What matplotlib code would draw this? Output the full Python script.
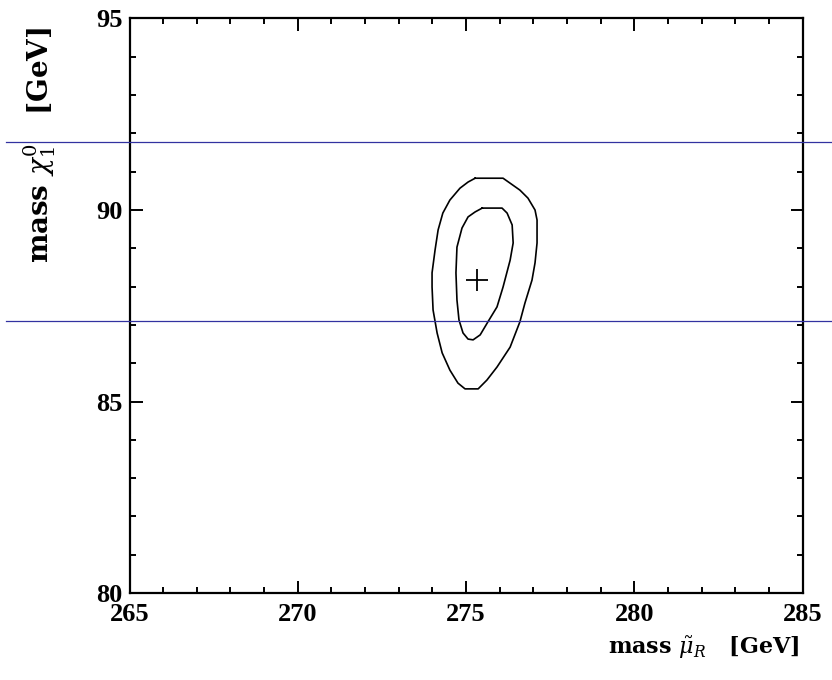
import matplotlib
matplotlib.use("Agg")
import matplotlib.pyplot as plt
import matplotlib.transforms as mtransforms
from matplotlib.lines import Line2D
from matplotlib.ticker import MultipleLocator

# Fit result: best-fit point and confidence contours in the
# (smuon mass, neutralino mass) plane
best_fit_mu = 275.33
best_fit_chi = 88.17

outer_mu = [275.27, 276.10, 276.31, 276.60, 276.84, 277.05, 277.11, 277.11,
            277.05, 276.96, 276.75, 276.60, 276.31, 275.92, 275.62, 275.36,
            274.97, 274.76, 274.52, 274.29, 274.14, 274.02, 273.99, 273.99,
            274.08, 274.17, 274.31, 274.52, 274.82, 275.06]
outer_chi = [90.83, 90.83, 90.70, 90.52, 90.31, 90.00, 89.74, 89.14,
             88.62, 88.17, 87.57, 87.08, 86.42, 85.90, 85.56, 85.33,
             85.33, 85.48, 85.82, 86.27, 86.79, 87.39, 87.99, 88.36,
             88.96, 89.48, 89.92, 90.26, 90.57, 90.73]

inner_mu = [275.48, 276.07, 276.22, 276.37, 276.40, 276.31, 276.10, 275.92,
            275.65, 275.42, 275.21, 275.06, 274.91, 274.79, 274.73, 274.70,
            274.73, 274.88, 275.06, 275.27]
inner_chi = [90.05, 90.05, 89.92, 89.61, 89.14, 88.69, 87.99, 87.47,
             87.08, 86.74, 86.61, 86.63, 86.79, 87.13, 87.65, 88.36,
             89.03, 89.53, 89.82, 89.95]

# Horizontal reference levels of the neutralino mass
chi_levels = [91.78, 87.09]

x_ticks = [265, 270, 275, 280, 285]
y_ticks = [80, 85, 90, 95]

plt.rcParams["mathtext.fontset"] = "dejavuserif"

fig = plt.figure(figsize=(8.32, 6.8), dpi=100)
ax = fig.add_axes([0.1557, 0.1279, 0.8089, 0.8449])

ax.plot(outer_mu + outer_mu[:1], outer_chi + outer_chi[:1], color="black", lw=1.2)
ax.plot(inner_mu + inner_mu[:1], inner_chi + inner_chi[:1], color="black", lw=1.2)
ax.plot([best_fit_mu], [best_fit_chi], marker="+", color="black",
        markersize=16, markeredgewidth=1.3, linestyle="none")

ax.set_xlim(265, 285)
ax.set_ylim(80, 95)
ax.set_xticks(x_ticks)
ax.set_yticks(y_ticks)
ax.xaxis.set_minor_locator(MultipleLocator(1))
ax.yaxis.set_minor_locator(MultipleLocator(1))
ax.tick_params(which="both", direction="in", top=True, right=True,
               width=1.4, colors="black")
ax.tick_params(which="major", length=9)
ax.tick_params(which="minor", length=4.5)
ax.tick_params(axis="x", which="major", pad=7)
ax.tick_params(axis="y", which="major", pad=5)
for lab in ax.get_xticklabels() + ax.get_yticklabels():
    lab.set_fontfamily("Liberation Serif")
    lab.set_fontweight("bold")
    lab.set_fontsize(19)
for sp in ax.spines.values():
    sp.set_linewidth(1.6)

# Reference lines spanning the full figure width
trans = mtransforms.blended_transform_factory(fig.transFigure, ax.transData)
for lvl in chi_levels:
    fig.add_artist(Line2D([6 / 832, 1.0], [lvl, lvl], transform=trans,
                          color="#3232a0", lw=0.9))

fig.text(800 / 832, 1 - 648 / 680, r"mass $\tilde{\mu}_R$   [GeV]",
         ha="right", va="center", fontsize=16, fontweight="bold",
         family="DejaVu Serif")
fig.text(40 / 832, 1 - 145 / 680, r"mass $\chi^0_1$   [GeV]",
         ha="center", va="center", rotation=90, fontsize=20,
         fontweight="bold", family="DejaVu Serif")

fig.savefig("out.png", dpi=100, facecolor="white")
